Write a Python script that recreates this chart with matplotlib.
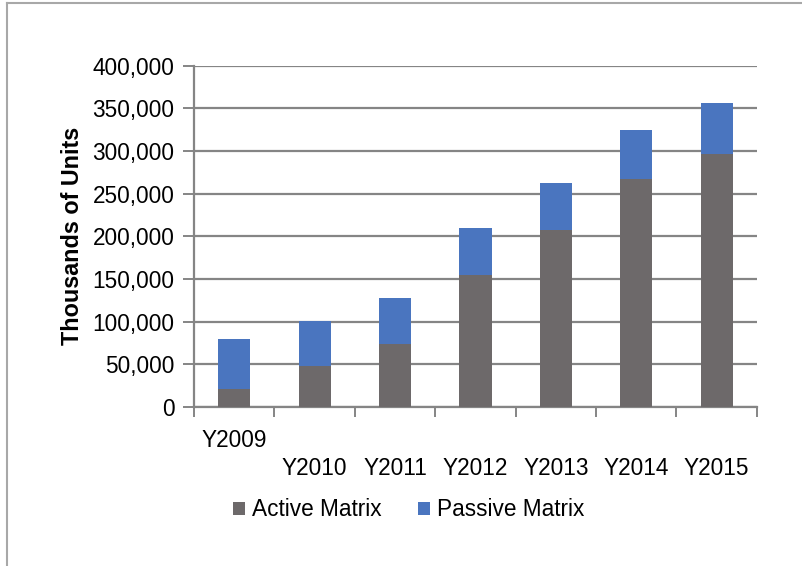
import matplotlib.pyplot as plt
import numpy as np
from matplotlib.lines import Line2D

# data (thousands of units)
years = ["Y2009", "Y2010", "Y2011", "Y2012", "Y2013", "Y2014", "Y2015"]
active = [21500, 47500, 74000, 155000, 207000, 267500, 297000]
passive = [58000, 53000, 53500, 55000, 56000, 57500, 59500]

plt.rcParams["font.family"] = ["Liberation Sans", "DejaVu Sans"]

GRAY = "#6d696a"
BLUE = "#4a75bf"
GRID = "#858585"

fig = plt.figure(figsize=(8.03, 5.66), dpi=100)
ax = fig.add_axes([0.2416, 0.281, 0.701, 0.603])

x = np.arange(len(years))
ax.bar(x, active, width=0.4, color=GRAY, label="Active Matrix", zorder=3)
ax.bar(x, passive, width=0.4, bottom=active, color=BLUE,
       label="Passive Matrix", zorder=3)

ax.set_xlim(-0.5, len(years) - 0.5)
ax.set_ylim(0, 400000)
ax.set_yticks(np.arange(0, 400001, 50000))
ax.set_yticklabels([f"{v:,}" for v in range(0, 400001, 50000)], fontsize=16.3)
ax.yaxis.grid(True, color=GRID, linewidth=1.6, zorder=0)
ax.tick_params(axis="y", length=8, width=1.4, color=GRID, pad=6)

# labels centred on bars, ticks on category boundaries
ax.set_xticks(x)
ax.set_xticklabels([lab if i == 0 else "\n" + lab for i, lab in enumerate(years)],
                   fontsize=16.3, linespacing=1.25)
ax.set_xticks(np.arange(-0.5, len(years)), minor=True)
ax.tick_params(axis="x", which="major", length=0, pad=16)
ax.tick_params(axis="x", which="minor", length=7, width=1.4, color=GRID)

for side in ["top", "right"]:
    ax.spines[side].set_visible(False)
for side in ["left", "bottom"]:
    ax.spines[side].set_color(GRID)
    ax.spines[side].set_linewidth(1.6)

ax.set_ylabel("Thousands of Units", fontsize=16.8, fontweight="bold", labelpad=6)

fig.legend(loc="center", bbox_to_anchor=(0.509, 0.099), ncol=2, frameon=False,
           fontsize=16.3, handlelength=0.55, handleheight=0.55, handletextpad=0.3,
           columnspacing=1.6)

# light frame on the left and top edges
fig.add_artist(Line2D([0.009, 0.009], [0, 0.995], transform=fig.transFigure,
                      color="#a8a8a8", linewidth=1.5))
fig.add_artist(Line2D([0.009, 1], [0.995, 0.995], transform=fig.transFigure,
                      color="#a8a8a8", linewidth=1.5))

fig.savefig("out.png", dpi=100)
